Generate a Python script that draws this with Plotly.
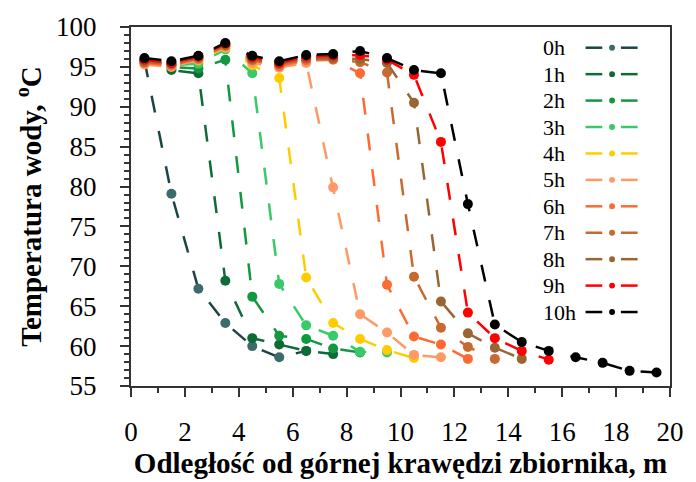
import plotly.graph_objects as go

# ---- data ----
x_pos = [0.5, 1.5, 2.5, 3.5, 4.5, 5.5, 6.5, 7.5, 8.5, 9.5,
         10.5, 11.5, 12.5, 13.5, 14.5, 15.5, 16.5, 17.5, 18.5, 19.5]
labels = ["0h", "1h", "2h", "3h", "4h", "5h", "6h", "7h", "8h", "9h", "10h"]

t0 = [95.8, 79.1, 67.2, 62.9, 60.0, 58.6, 59.4]
t1 = [95.9, 94.6, 94.2, 68.2, 61.0, 60.2, 59.4, 59.0]
t2 = [95.8, 95.0, 94.8, 95.9, 66.2, 61.3, 60.9, 59.7, 59.2]
t3 = [95.7, 95.2, 95.4, 97.2, 94.2, 67.8, 62.6, 61.3, 59.3, 59.2]
t4 = [95.6, 95.3, 95.8, 97.4, 95.2, 93.6, 68.6, 62.9, 60.9, 59.5, 58.5]
t5 = [95.3, 95.0, 95.9, 97.5, 95.5, 94.9, 95.5, 79.9, 64.0, 61.7, 58.9, 58.6]
t6 = [95.5, 95.2, 96.0, 97.6, 95.8, 95.1, 95.8, 95.9, 94.2, 67.7, 61.2, 60.2, 58.4]
t7 = [95.6, 95.3, 96.1, 97.7, 95.9, 95.3, 96.0, 96.0, 95.6, 94.3, 68.7, 62.3, 59.9, 58.4]
t8 = [95.7, 95.4, 96.2, 97.8, 96.0, 95.4, 96.1, 96.1, 96.0, 95.5, 90.5, 65.6, 61.6, 59.8, 58.4]
t9 = [95.9, 95.5, 96.3, 97.9, 96.2, 95.5, 96.3, 96.4, 96.5, 95.9, 94.0, 85.6, 64.2, 61.0, 59.4, 58.3]
t10 = [96.1, 95.7, 96.4, 98.0, 96.4, 95.7, 96.5, 96.6, 97.0, 96.1, 94.6, 94.2, 77.8, 62.7,
       60.5, 59.4, 58.6, 57.9, 56.9, 56.7]
series = [t0, t1, t2, t3, t4, t5, t6, t7, t8, t9, t10]

line_colors = ["#1B4545", "#0E6B38", "#12993F", "#38C96A", "#FFCC00", "#FF9966",
               "#FF6A33", "#C8692F", "#996633", "#FF0000", "#000000"]
marker_colors = ["#3D6B6B", "#0E6B38", "#12993F", "#38C96A", "#FFCC00", "#FF9966",
                 "#FF6A33", "#C8692F", "#996633", "#FF0000", "#000000"]

FONT = "Liberation Serif, Times New Roman, serif"

fig = go.Figure()
for lab, ys, lc, mc in zip(labels, series, line_colors, marker_colors):
    fig.add_trace(go.Scatter(
        x=x_pos[:len(ys)], y=ys, mode="lines+markers", name=lab,
        line=dict(color=lc, width=2.5, dash="17px,19px"),
        marker=dict(color=mc, size=10),
        showlegend=False,
    ))

# ---- manual legend (text left, symbol right) ----
L, R, T, B = 131, 680, 24, 388
W, H = R - L, B - T
def px(xp):
    return (xp - L) / W
def py(yp):
    return 1 - (yp - T) / H

shapes = []
annotations = []
for i, (lab, lc, mc) in enumerate(zip(labels, line_colors, marker_colors)):
    yy = 45 + 26.8 * i
    annotations.append(dict(x=px(549), y=py(yy), xref="paper", yref="paper",
                            text=lab, showarrow=False, xanchor="left", yanchor="middle",
                            font=dict(family=FONT, size=22, color="black")))
    for a, b in [(594, 611), (630, 647)]:
        shapes.append(dict(type="line", xref="paper", yref="paper",
                           x0=px(a), x1=px(b), y0=py(yy), y1=py(yy),
                           line=dict(color=lc, width=2.5)))
    r = 3
    shapes.append(dict(type="circle", xref="paper", yref="paper",
                       x0=px(621 - r), x1=px(621 + r), y0=py(yy + r), y1=py(yy - r),
                       fillcolor=mc, line=dict(color=mc, width=0)))

fig.update_layout(
    width=696, height=482,
    margin=dict(l=L, r=696 - R, t=T, b=482 - B),
    paper_bgcolor="white", plot_bgcolor="white",
    font=dict(family=FONT, size=26, color="black"),
    shapes=shapes, annotations=annotations,
)
fig.update_xaxes(
    range=[0, 20], dtick=2, tick0=0, showgrid=False, zeroline=False,
    showline=True, linecolor="#333333", linewidth=2, mirror=True,
    ticks="outside", ticklen=9, tickwidth=1.5, tickcolor="#333333",
    minor=dict(dtick=1, tick0=0, ticks="outside", ticklen=5, tickwidth=1.5, tickcolor="#333333"),
    tickfont=dict(family=FONT, size=27), ticklabelstandoff=12,
    title=dict(text="<b>Odległość od górnej krawędzi zbiornika, m</b>",
               font=dict(family=FONT, size=29), standoff=2),
)
fig.update_yaxes(
    range=[55, 100], dtick=5, tick0=55, showgrid=False, zeroline=False,
    showline=True, linecolor="#333333", linewidth=2, mirror=True,
    ticks="outside", ticklen=9, tickwidth=1.5, tickcolor="#333333",
    minor=dict(dtick=1, tick0=55, ticks="outside", ticklen=5, tickwidth=1.5, tickcolor="#333333"),
    tickfont=dict(family=FONT, size=27), ticklabelstandoff=18,
    title=dict(text="<b>Temperatura wody, <sup>o</sup>C</b>",
               font=dict(family=FONT, size=29), standoff=6),
)

fig.write_html("out.html")
